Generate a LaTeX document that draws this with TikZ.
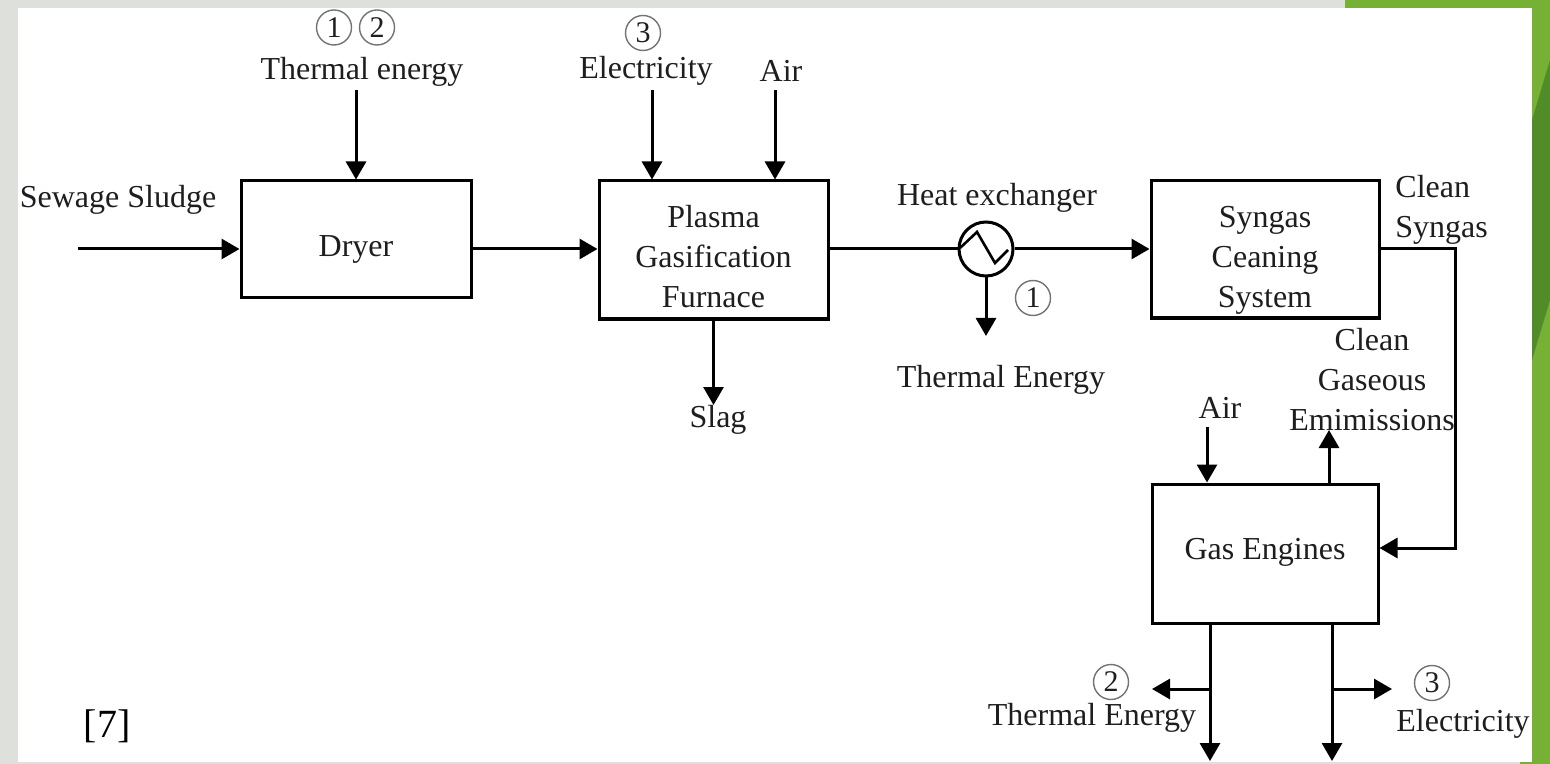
\documentclass[tikz,border=0pt]{standalone}
\usepackage{fontspec}
\setmainfont{Liberation Serif}
\usetikzlibrary{arrows.meta}
\definecolor{paper}{RGB}{222,224,220}
\definecolor{leaf}{RGB}{118,176,52}
\definecolor{leafdark}{RGB}{80,140,40}
\definecolor{ink}{RGB}{30,30,30}
\begin{document}
\begin{tikzpicture}[x=0.5pt,y=-0.5pt,
  lbl/.style={font=\fontsize{16}{20}\selectfont, text=ink, inner sep=0pt, align=center},
  procbox/.style={draw=black, line width=1.5pt, fill=white, inner sep=0pt},
  arr/.style={line width=1.5pt, -{Triangle[length=9pt,width=10pt]}},
  ln/.style={line width=1.5pt},
  cnum/.style={circle, draw=black!55, line width=0.7pt, inner sep=0pt, minimum size=17.5pt, font=\fontsize{15}{15}\selectfont, text=ink}
]
\useasboundingbox (0,0) rectangle (1550,764);
% background
\fill[paper] (0,0) rectangle (1550,764);
\fill[leaf] (1345,0) -- (1550,0) -- (1550,764) -- (1520,764) -- (1520,8) -- (1345,8) -- cycle;
\fill[leafdark] (1532,120) -- (1550,60) -- (1550,300) -- (1532,360) -- cycle;
\fill[white] (18,8) rectangle (1532,762);

% boxes
\node[procbox, minimum width=115pt, minimum height=58.5pt] (dryer) at (356,239.5) {};
\node[procbox, minimum width=114.5pt, minimum height=69pt] (plasma) at (713.5,250) {};
\node[procbox, minimum width=114pt, minimum height=68.5pt] (syngas) at (1265,249.5) {};
\node[procbox, minimum width=113pt, minimum height=69.5pt] (gas) at (1265,553.5) {};
\node[lbl] (dryertxt) at (356,249) {Dryer};
\node[lbl] (plasmatxt) at (713.5,256.7) {Plasma\\Gasification\\Furnace};
\node[lbl] (syngastxt) at (1265,260.5) {Syngas\\Ceaning\\System};
\node[lbl] (gastxt) at (1265,552) {Gas Engines};
\node[circle, draw=black, line width=1.5pt, minimum size=27pt, inner sep=0pt] (hx) at (986,249) {};
\draw[line width=1.3pt] ([shift={(-26,-1)}]hx.center) -- ([shift={(-9,-17)}]hx.center) -- ([shift={(9,14)}]hx.center) -- ([shift={(22,1)}]hx.center);

% labels
\node[lbl] (sewage) at (118,200) {Sewage Sludge};
\node[lbl] (thermtop) at (362,72) {Thermal energy};
\node[cnum] (c1a) at (334,27.5) {1};
\node[cnum] (c2a) at (377,27.5) {2};
\node[lbl] (electop) at (646,71) {Electricity};
\node[cnum] (c3a) at (643,33) {3};
\node[lbl] (airtop) at (781,71) {Air};
\node[lbl] (slag) at (718,420) {Slag};
\node[lbl] (hxlbl) at (997,198) {Heat exchanger};
\node[cnum] (c1b) at (1033,298) {1};
\node[lbl] (hxtherm) at (1001,380) {Thermal Energy};
\node[lbl, align=left, anchor=west] (cleansyn) at (1395,210) {Clean\\Syngas};
\node[lbl] (emis) at (1372,380) {Clean\\Gaseous\\Emimissions};
\node[lbl] (airbot) at (1220,408) {Air};
\node[cnum] (c2b) at (1111,682) {2};
\node[lbl] (thermbot) at (1092,718) {Thermal Energy};
\node[cnum] (c3b) at (1432,683) {3};
\node[lbl] (elecbot) at (1463,724) {Electricity};
\node[font=\fontsize{20}{20}\selectfont, inner sep=0pt] (ref) at (107,726) {[7]};

% coordinates
\coordinate (ss) at (78,249);
\coordinate (elx) at (652,90);
\coordinate (airx) at (775,90);
\coordinate (tex) at (356,90);
\coordinate (slagtip) at (713.5,405);
\coordinate (hxd) at (986,336);
\coordinate (cs1) at (1455,249);
\coordinate (cs2) at (1455,548);
\coordinate (air2) at (1207,427);
\coordinate (em) at (1329,430);
\coordinate (b1) at (1210,761);
\coordinate (b2) at (1332,761);
\coordinate (s1) at (1152,689);
\coordinate (s2) at (1392,689);

% connectors
\draw[arr] (ss) -- (ss -| dryer.west);
\draw[arr] (tex) -- (tex |- dryer.north);
\draw[arr] (dryer.east |- ss) -- (plasma.west |- ss);
\draw[arr] (elx) -- (elx |- plasma.north);
\draw[arr] (airx) -- (airx |- plasma.north);
\draw[arr] (plasma.south) -- (slagtip);
\draw[ln] (plasma.east |- hx.west) -- (hx.west);
\draw[arr] (hx.east) -- (syngas.west |- hx.east);
\draw[arr] (hx.south) -- (hxd);
\draw[arr] (syngas.east |- cs1) -- (cs1) -- (cs2) -- (cs2 -| gas.east);
\draw[arr] (air2) -- (air2 |- gas.north);
\draw[arr] (em |- gas.north) -- (em);
\draw[arr] (b1 |- gas.south) -- (b1);
\draw[arr] (b2 |- gas.south) -- (b2);
\draw[arr] (b1 |- s1) -- (s1);
\draw[arr] (b2 |- s2) -- (s2);
\end{tikzpicture}
\end{document}
